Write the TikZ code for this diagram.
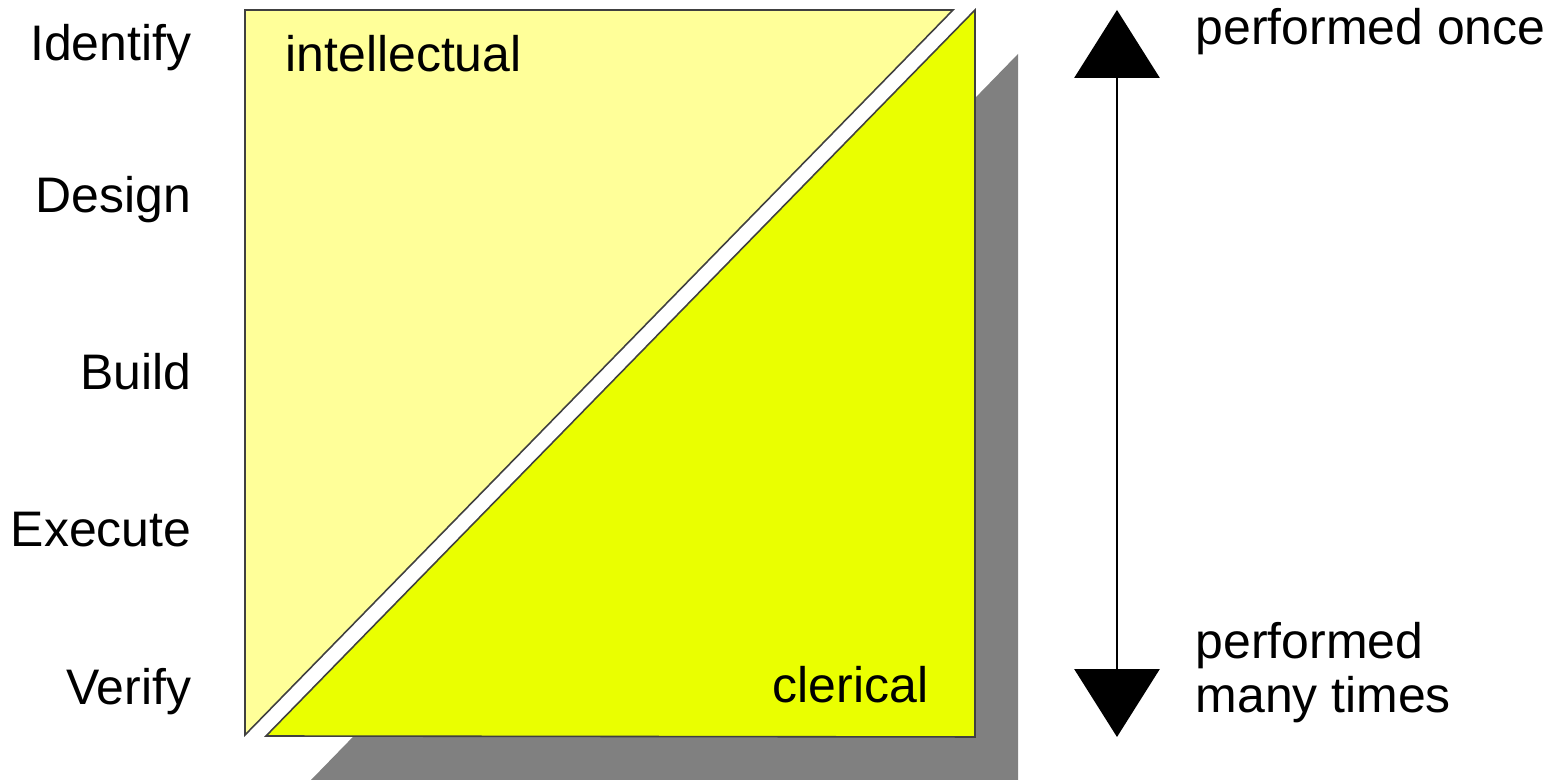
\documentclass[tikz,border=0pt]{standalone}
\usepackage{xcolor}
\usepackage{fontspec}
\setmainfont{Liberation Sans}
\usepackage{tikz}
\usetikzlibrary{arrows.meta, positioning}

\definecolor{paleyellow}{RGB}{255,255,153}
\definecolor{limeyellow}{RGB}{234,255,0}
\definecolor{shadowgray}{RGB}{128,128,128}

\begin{document}
\begin{tikzpicture}[
    x=0.01cm, y=-0.01cm,
    stage/.style={anchor=base east, inner sep=0pt, font=\fontsize{14.2}{15.6}\selectfont},
    note/.style={anchor=base west, inner sep=0pt, align=left, font=\fontsize{14.2}{15.6}\selectfont},
    tri/.style={draw=black!75, line width=0.45pt, line join=miter}
]
\useasboundingbox (0,0) rectangle (1565,780);

% Shadow behind the clerical part
\fill[shadowgray] (311,780) -- (1018,54) -- (1018,780) -- cycle;

% The two halves of the square
\filldraw[tri, fill=paleyellow] (245,10) -- (953,10) -- (245,735) -- cycle;
\filldraw[tri, fill=limeyellow] (266,736) -- (975,10) -- (975,737) -- cycle;

\node[note] (intel) at (285,72) {intellectual};
\node[anchor=base east, inner sep=0pt, font=\fontsize{14.2}{15.6}\selectfont] (cler) at (929,703) {clerical};

% Stages on the left
\node[stage] (identify) at (192,61) {Identify};
\node[stage] (design) at (192,213) {Design};
\node[stage] (build) at (192,390) {Build};
\node[stage] (execute) at (192,547) {Execute};
\node[stage] (verify) at (192,705) {Verify};

% Frequency arrow on the right
\coordinate (once) at (1117,10);
\coordinate (many) at (1117,737);
\draw[line width=0.6pt, {Triangle[width=24.2pt, length=19.3pt]}-{Triangle[width=24.2pt, length=19.3pt]}] (once) -- (many);

\node[note] (top) at (1195,45) {performed once};
% base of a two-line node sits on its last line
\node[note] (bottom) at (1195,713) {performed\\many times};

\end{tikzpicture}
\end{document}
